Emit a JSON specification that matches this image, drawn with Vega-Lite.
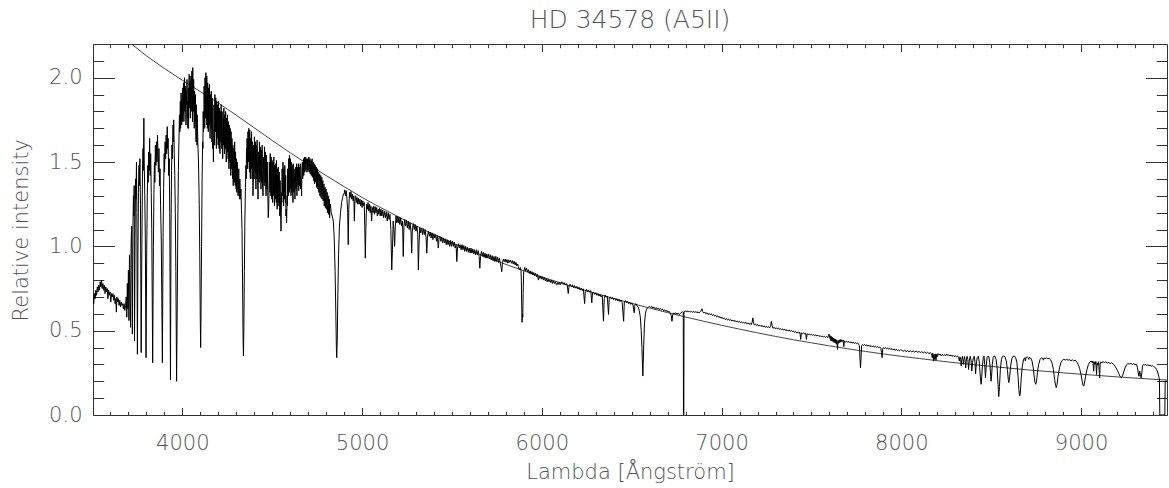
{
"$schema": "https://vega.github.io/schema/vega-lite/v6.json",
"width": 1074, "height": 371,
"autosize": "none",
"padding": {"left": 93, "top": 44, "right": 2, "bottom": 73},
"background": "white",
"title": {"text": "HD 34578 (A5II)", "font": "DejaVu Sans", "fontSize": 25, "fontWeight": 200, "color": "#555", "offset": 14, "anchor": "middle", "baseline": "alphabetic", "dy": 23},
"datasets": {
"cont": [{"w":3503,"c":2.40},{"w":3600,"c":2.31},{"w":3700,"c":2.215},{"w":3800,"c":2.13},{"w":3900,"c":2.055},{"w":4000,"c":1.985},{"w":4100,"c":1.918},{"w":4200,"c":1.85},{"w":4300,"c":1.778},{"w":4400,"c":1.703},{"w":4500,"c":1.628},{"w":4600,"c":1.555},{"w":4700,"c":1.486},{"w":4800,"c":1.42},{"w":4900,"c":1.354},{"w":5000,"c":1.29},{"w":5100,"c":1.232},{"w":5200,"c":1.176},{"w":5300,"c":1.122},{"w":5400,"c":1.07},{"w":5500,"c":1.022},{"w":5600,"c":0.976},{"w":5700,"c":0.933},{"w":5800,"c":0.893},{"w":5900,"c":0.855},{"w":6000,"c":0.819},{"w":6100,"c":0.785},{"w":6200,"c":0.752},{"w":6300,"c":0.721},{"w":6400,"c":0.691},{"w":6500,"c":0.662},{"w":6600,"c":0.634},{"w":6700,"c":0.607},{"w":6800,"c":0.581},{"w":6900,"c":0.556},{"w":7000,"c":0.532},{"w":7100,"c":0.509},{"w":7200,"c":0.487},{"w":7300,"c":0.466},{"w":7400,"c":0.446},{"w":7500,"c":0.428},{"w":7600,"c":0.41},{"w":7700,"c":0.393},{"w":7800,"c":0.377},{"w":7900,"c":0.362},{"w":8000,"c":0.348},{"w":8100,"c":0.335},{"w":8200,"c":0.322},{"w":8300,"c":0.31},{"w":8400,"c":0.299},{"w":8500,"c":0.288},{"w":8600,"c":0.278},{"w":8700,"c":0.268},{"w":8800,"c":0.259},{"w":8900,"c":0.25},{"w":9000,"c":0.242},{"w":9100,"c":0.234},{"w":9200,"c":0.226},{"w":9300,"c":0.219},{"w":9400,"c":0.212},{"w":9478,"c":0.207}],
"spec": [
{"w":3503,"f":0.70},{"w":3507,"f":0.66},{"w":3511,"f":0.72},{"w":3515,"f":0.69},{"w":3519,"f":0.74},{"w":3523,"f":0.71},{"w":3527,"f":0.76},{"w":3531,"f":0.73},{"w":3535,"f":0.77},{"w":3539,"f":0.74},{"w":3543,"f":0.79},{"w":3547,"f":0.76},{"w":3550,"f":0.80},{"w":3554,"f":0.75},{"w":3558,"f":0.78},{"w":3562,"f":0.74},{"w":3566,"f":0.77},{"w":3570,"f":0.72},{"w":3574,"f":0.76},{"w":3578,"f":0.73},{"w":3582,"f":0.75},{"w":3586,"f":0.69},{"w":3590,"f":0.74},{"w":3594,"f":0.71},{"w":3598,"f":0.73},{"w":3602,"f":0.67},{"w":3606,"f":0.72},{"w":3610,"f":0.70},{"w":3614,"f":0.72},{"w":3618,"f":0.68},{"w":3622,"f":0.71},{"w":3626,"f":0.66},{"w":3630,"f":0.69},{"w":3633,"f":0.61},{"w":3636,"f":0.70},{"w":3640,"f":0.67},{"w":3644,"f":0.69},{"w":3648,"f":0.65},{"w":3652,"f":0.68},{"w":3656,"f":0.64},{"w":3660,"f":0.67},{"w":3664,"f":0.65},{"w":3668,"f":0.66},{"w":3672,"f":0.63},{"w":3676,"f":0.66},{"w":3680,"f":0.62},{"w":3684,"f":0.65},
{"w":3688,"f":0.70},{"w":3691,"f":0.58},{"w":3694,"f":0.78},{"w":3697,"f":0.63},{"w":3700,"f":0.86},{"w":3703,"f":0.56},{"w":3706,"f":0.95},{"w":3709,"f":0.72},{"w":3712,"f":0.52},{"w":3715,"f":1.02},{"w":3718,"f":1.12},{"w":3720,"f":0.85},{"w":3722,"f":0.48},{"w":3725,"f":1.10},{"w":3728,"f":1.30},{"w":3730,"f":1.18},{"w":3732,"f":1.36},{"w":3734,"f":0.44},{"w":3737,"f":1.05},{"w":3740,"f":1.40},{"w":3742,"f":1.28},{"w":3745,"f":1.50},{"w":3747,"f":1.20},{"w":3750,"f":0.36},{"w":3753,"f":0.95},{"w":3756,"f":1.32},{"w":3759,"f":1.48},{"w":3761,"f":1.36},{"w":3764,"f":1.52},{"w":3767,"f":1.25},{"w":3771,"f":0.37},{"w":3775,"f":1.02},{"w":3778,"f":1.40},{"w":3781,"f":1.58},{"w":3783,"f":1.45},{"w":3786,"f":1.76},{"w":3788,"f":1.50},{"w":3791,"f":1.30},{"w":3794,"f":1.05},{"w":3798,"f":0.34},{"w":3802,"f":0.98},{"w":3805,"f":1.30},{"w":3808,"f":1.48},{"w":3810,"f":1.38},{"w":3813,"f":1.56},{"w":3816,"f":1.45},{"w":3818,"f":1.64},{"w":3821,"f":1.42},{"w":3824,"f":1.55},{"w":3827,"f":1.32},{"w":3830,"f":1.10},{"w":3835,"f":0.31},{"w":3839,"f":1.00},{"w":3842,"f":1.32},{"w":3845,"f":1.50},{"w":3847,"f":1.38},{"w":3850,"f":1.60},{"w":3853,"f":1.48},{"w":3856,"f":1.62},{"w":3859,"f":1.50},{"w":3862,"f":1.66},{"w":3864,"f":1.56},{"w":3867,"f":1.44},{"w":3870,"f":1.58},{"w":3873,"f":1.36},{"w":3876,"f":1.46},{"w":3879,"f":1.24},{"w":3883,"f":1.02},{"w":3889,"f":0.31},{"w":3893,"f":1.08},{"w":3896,"f":1.35},{"w":3899,"f":1.55},{"w":3901,"f":1.44},{"w":3904,"f":1.62},{"w":3907,"f":1.52},{"w":3910,"f":1.66},{"w":3913,"f":1.55},{"w":3916,"f":1.71},{"w":3918,"f":1.58},{"w":3921,"f":1.64},{"w":3924,"f":1.42},{"w":3927,"f":1.52},{"w":3930,"f":1.20},{"w":3934,"f":0.21},{"w":3937,"f":1.10},{"w":3940,"f":1.45},{"w":3942,"f":1.60},{"w":3945,"f":1.52},{"w":3948,"f":1.72},{"w":3950,"f":1.62},{"w":3952,"f":1.75},{"w":3955,"f":1.55},{"w":3958,"f":1.42},{"w":3961,"f":1.20},{"w":3964,"f":0.85},{"w":3968,"f":0.20},{"w":3972,"f":0.70},{"w":3975,"f":1.15},{"w":3978,"f":1.45},{"w":3981,"f":1.62},{"w":3984,"f":1.78},{"w":3986,"f":1.68},{"w":3989,"f":1.86},{"w":3991,"f":1.76},{"w":3993,"f":1.91},{"w":3995,"f":1.80},{"w":3998,"f":1.87},{"w":4000,"f":1.74},{"w":4002,"f":1.94},{"w":4005,"f":1.84},{"w":4007,"f":1.97},{"w":4010,"f":1.86},{"w":4012,"f":2.00},{"w":4015,"f":1.88},{"w":4017,"f":1.95},{"w":4019,"f":1.78},{"w":4022,"f":1.92},{"w":4024,"f":1.84},{"w":4026,"f":1.99},{"w":4029,"f":1.86},{"w":4031,"f":1.70},{"w":4033,"f":1.94},{"w":4036,"f":1.85},{"w":4038,"f":2.02},{"w":4041,"f":1.90},{"w":4043,"f":1.98},{"w":4046,"f":1.84},{"w":4048,"f":2.01},{"w":4051,"f":1.92},{"w":4053,"f":2.04},{"w":4055,"f":1.90},{"w":4058,"f":2.06},{"w":4060,"f":1.88},{"w":4063,"f":1.99},{"w":4065,"f":1.78},{"w":4068,"f":1.92},{"w":4070,"f":1.82},{"w":4073,"f":1.90},{"w":4075,"f":1.68},{"w":4078,"f":1.84},{"w":4080,"f":1.72},{"w":4083,"f":1.78},{"w":4086,"f":1.62},{"w":4090,"f":1.50},{"w":4094,"f":1.25},{"w":4097,"f":0.95},{"w":4100,"f":0.55},{"w":4102,"f":0.40},{"w":4104,"f":0.60},{"w":4107,"f":1.00},
{"w":4110,"f":1.40},{"w":4113,"f":1.62},{"w":4116,"f":1.80},{"w":4118,"f":1.68},{"w":4121,"f":1.95},{"w":4123,"f":1.84},{"w":4126,"f":2.00},{"w":4128,"f":1.88},{"w":4131,"f":2.03},{"w":4133,"f":1.92},{"w":4136,"f":2.01},{"w":4138,"f":1.86},{"w":4141,"f":1.97},{"w":4143,"f":1.80},{"w":4146,"f":1.94},{"w":4148,"f":1.84},{"w":4151,"f":1.96},{"w":4153,"f":1.76},{"w":4156,"f":1.90},{"w":4158,"f":1.80},{"w":4161,"f":1.92},{"w":4163,"f":1.74},{"w":4166,"f":1.88},{"w":4168,"f":1.78},{"w":4171,"f":1.62},{"w":4173,"f":1.50},{"w":4176,"f":1.84},{"w":4178,"f":1.72},{"w":4181,"f":1.90},{"w":4183,"f":1.80},{"w":4186,"f":1.88},{"w":4188,"f":1.74},{"w":4191,"f":1.86},{"w":4193,"f":1.70},{"w":4196,"f":1.84},{"w":4198,"f":1.76},{"w":4201,"f":1.86},{"w":4203,"f":1.72},{"w":4206,"f":1.82},{"w":4208,"f":1.66},{"w":4211,"f":1.80},{"w":4213,"f":1.70},{"w":4216,"f":1.84},{"w":4218,"f":1.74},{"w":4221,"f":1.80},{"w":4223,"f":1.68},{"w":4226,"f":1.63},{"w":4228,"f":1.76},{"w":4231,"f":1.82},{"w":4233,"f":1.66},{"w":4236,"f":1.78},{"w":4238,"f":1.70},{"w":4241,"f":1.80},{"w":4243,"f":1.62},{"w":4246,"f":1.76},{"w":4248,"f":1.66},{"w":4251,"f":1.78},{"w":4253,"f":1.68},{"w":4256,"f":1.74},{"w":4258,"f":1.56},{"w":4261,"f":1.72},{"w":4263,"f":1.60},{"w":4266,"f":1.70},{"w":4268,"f":1.52},{"w":4271,"f":1.68},{"w":4273,"f":1.50},{"w":4276,"f":1.64},{"w":4278,"f":1.46},{"w":4281,"f":1.60},{"w":4283,"f":1.36},{"w":4286,"f":1.58},{"w":4288,"f":1.48},{"w":4291,"f":1.62},{"w":4293,"f":1.44},{"w":4296,"f":1.56},{"w":4298,"f":1.40},{"w":4301,"f":1.52},{"w":4303,"f":1.32},{"w":4306,"f":1.50},{"w":4308,"f":1.38},{"w":4311,"f":1.30},{"w":4314,"f":1.46},{"w":4317,"f":1.34},{"w":4320,"f":1.40},{"w":4323,"f":1.28},{"w":4326,"f":1.34},{"w":4329,"f":1.22},{"w":4332,"f":1.10},{"w":4335,"f":0.80},{"w":4338,"f":0.45},{"w":4340,"f":0.35},{"w":4342,"f":0.48},{"w":4345,"f":0.85},
{"w":4348,"f":1.15},{"w":4351,"f":1.35},{"w":4354,"f":1.48},{"w":4357,"f":1.58},{"w":4360,"f":1.64},{"w":4362,"f":1.56},{"w":4365,"f":1.68},{"w":4367,"f":1.60},{"w":4370,"f":1.70},{"w":4372,"f":1.58},{"w":4375,"f":1.69},{"w":4377,"f":1.52},{"w":4380,"f":1.64},{"w":4382,"f":1.55},{"w":4385,"f":1.68},{"w":4387,"f":1.52},{"w":4390,"f":1.62},{"w":4393,"f":1.30},{"w":4396,"f":1.60},{"w":4398,"f":1.48},{"w":4401,"f":1.65},{"w":4403,"f":1.54},{"w":4406,"f":1.62},{"w":4408,"f":1.42},{"w":4411,"f":1.60},{"w":4413,"f":1.48},{"w":4416,"f":1.63},{"w":4418,"f":1.46},{"w":4421,"f":1.28},{"w":4424,"f":1.56},{"w":4426,"f":1.47},{"w":4429,"f":1.62},{"w":4431,"f":1.50},{"w":4434,"f":1.59},{"w":4436,"f":1.42},{"w":4439,"f":1.57},{"w":4441,"f":1.45},{"w":4444,"f":1.60},{"w":4446,"f":1.37},{"w":4449,"f":1.30},{"w":4452,"f":1.53},{"w":4454,"f":1.43},{"w":4457,"f":1.59},{"w":4459,"f":1.47},{"w":4462,"f":1.56},{"w":4464,"f":1.39},{"w":4467,"f":1.54},{"w":4469,"f":1.38},{"w":4472,"f":1.50},{"w":4475,"f":1.32},{"w":4478,"f":1.17},{"w":4481,"f":1.24},{"w":4484,"f":1.50},{"w":4486,"f":1.40},{"w":4489,"f":1.55},{"w":4491,"f":1.39},{"w":4494,"f":1.53},{"w":4496,"f":1.37},{"w":4499,"f":1.51},{"w":4501,"f":1.33},{"w":4504,"f":1.50},{"w":4506,"f":1.39},{"w":4509,"f":1.53},{"w":4511,"f":1.35},{"w":4514,"f":1.48},{"w":4516,"f":1.29},{"w":4519,"f":1.49},{"w":4521,"f":1.37},{"w":4524,"f":1.51},{"w":4526,"f":1.33},{"w":4529,"f":1.46},{"w":4531,"f":1.27},{"w":4534,"f":1.47},{"w":4536,"f":1.35},{"w":4539,"f":1.44},{"w":4541,"f":1.23},{"w":4544,"f":1.39},{"w":4546,"f":1.24},{"w":4549,"f":1.09},{"w":4552,"f":1.32},{"w":4555,"f":1.46},{"w":4557,"f":1.33},{"w":4560,"f":1.50},{"w":4562,"f":1.37},{"w":4565,"f":1.46},{"w":4567,"f":1.31},{"w":4570,"f":1.48},{"w":4572,"f":1.35},{"w":4575,"f":1.42},{"w":4578,"f":1.22},{"w":4580,"f":1.14},{"w":4583,"f":1.30},{"w":4586,"f":1.46},{"w":4588,"f":1.37},{"w":4591,"f":1.52},{"w":4593,"f":1.41},{"w":4596,"f":1.54},{"w":4598,"f":1.43},{"w":4601,"f":1.52},{"w":4603,"f":1.39},{"w":4606,"f":1.50},{"w":4608,"f":1.37},{"w":4611,"f":1.48},{"w":4614,"f":1.33},{"w":4617,"f":1.49},{"w":4619,"f":1.41},{"w":4622,"f":1.46},{"w":4625,"f":1.36},{"w":4628,"f":1.35},{"w":4631,"f":1.47},{"w":4633,"f":1.39},{"w":4636,"f":1.49},{"w":4638,"f":1.35},{"w":4641,"f":1.47},{"w":4643,"f":1.41},{"w":4646,"f":1.49},{"w":4648,"f":1.39},{"w":4651,"f":1.47},{"w":4653,"f":1.43},{"w":4656,"f":1.49},{"w":4659,"f":1.41},{"w":4662,"f":1.36},{"w":4665,"f":1.46},{"w":4668,"f":1.50},{"w":4671,"f":1.44},{"w":4674,"f":1.52},{"w":4677,"f":1.47},{"w":4680,"f":1.53},{"w":4683,"f":1.48},{"w":4686,"f":1.53},{"w":4689,"f":1.49},{"w":4692,"f":1.52},{"w":4695,"f":1.46},{"w":4698,"f":1.52},{"w":4701,"f":1.50},{"w":4704,"f":1.53},{"w":4707,"f":1.49},{"w":4710,"f":1.52},{"w":4713,"f":1.46},{"w":4716,"f":1.51},{"w":4719,"f":1.47},{"w":4722,"f":1.52},{"w":4725,"f":1.47},{"w":4728,"f":1.50},{"w":4731,"f":1.45},{"w":4734,"f":1.49},
{"w":4737,"f":1.44},{"w":4740,"f":1.48},{"w":4743,"f":1.43},{"w":4746,"f":1.47},{"w":4749,"f":1.42},{"w":4752,"f":1.46},{"w":4755,"f":1.40},{"w":4758,"f":1.44},{"w":4761,"f":1.38},{"w":4764,"f":1.43},{"w":4767,"f":1.37},{"w":4770,"f":1.42},{"w":4773,"f":1.34},{"w":4776,"f":1.41},{"w":4779,"f":1.36},{"w":4782,"f":1.39},{"w":4785,"f":1.33},{"w":4788,"f":1.37},{"w":4791,"f":1.30},{"w":4794,"f":1.35},{"w":4797,"f":1.29},{"w":4800,"f":1.34},{"w":4803,"f":1.28},{"w":4806,"f":1.32},{"w":4809,"f":1.25},{"w":4812,"f":1.30},{"w":4815,"f":1.24},{"w":4818,"f":1.28},{"w":4821,"f":1.22},{"w":4824,"f":1.25},{"w":4828,"f":1.20},{"w":4834,"f":1.18},{"w":4840,"f":1.15},{"w":4845,"f":1.05},{"w":4850,"f":0.85},{"w":4854,"f":0.60},{"w":4857,"f":0.40},{"w":4859,"f":0.34},{"w":4862,"f":0.45},{"w":4865,"f":0.70},{"w":4869,"f":0.95},{"w":4874,"f":1.12},{"w":4880,"f":1.20},{"w":4886,"f":1.26},{"w":4892,"f":1.29},{"w":4896,"f":1.31},
{"w":4900,"f":1.31},{"w":4904,"f":1.335},{"w":4908,"f":1.30},{"w":4912,"f":1.33},{"w":4916,"f":1.28},{"w":4920,"f":1.20},{"w":4923,"f":1.01},{"w":4926,"f":1.22},{"w":4930,"f":1.32},{"w":4934,"f":1.29},{"w":4938,"f":1.325},{"w":4942,"f":1.28},{"w":4946,"f":1.31},{"w":4950,"f":1.27},{"w":4954,"f":1.30},{"w":4957,"f":1.15},{"w":4960,"f":1.27},{"w":4964,"f":1.30},{"w":4968,"f":1.26},{"w":4972,"f":1.29},{"w":4976,"f":1.25},{"w":4980,"f":1.285},{"w":4984,"f":1.25},{"w":4988,"f":1.28},{"w":4992,"f":1.24},{"w":4996,"f":1.275},{"w":5000,"f":1.23},{"w":5004,"f":1.27},{"w":5008,"f":1.24},{"w":5012,"f":1.26},{"w":5015,"f":1.12},{"w":5018,"f":0.93},{"w":5021,"f":1.10},{"w":5025,"f":1.25},{"w":5029,"f":1.22},{"w":5033,"f":1.26},{"w":5037,"f":1.21},{"w":5041,"f":1.25},{"w":5045,"f":1.20},{"w":5049,"f":1.24},{"w":5053,"f":1.15},{"w":5057,"f":1.23},{"w":5061,"f":1.20},{"w":5065,"f":1.24},{"w":5069,"f":1.19},{"w":5073,"f":1.235},{"w":5077,"f":1.20},{"w":5081,"f":1.23},{"w":5085,"f":1.18},{"w":5089,"f":1.22},{"w":5093,"f":1.19},{"w":5097,"f":1.225},{"w":5101,"f":1.18},{"w":5105,"f":1.22},{"w":5110,"f":1.18},{"w":5115,"f":1.215},{"w":5120,"f":1.17},{"w":5125,"f":1.21},{"w":5130,"f":1.17},{"w":5135,"f":1.205},{"w":5140,"f":1.15},{"w":5145,"f":1.20},{"w":5150,"f":1.16},{"w":5155,"f":1.19},{"w":5160,"f":1.10},{"w":5165,"f":0.86},{"w":5169,"f":0.98},{"w":5173,"f":1.15},{"w":5177,"f":1.10},{"w":5181,"f":1.00},{"w":5185,"f":1.12},{"w":5189,"f":1.18},{"w":5193,"f":1.14},{"w":5197,"f":1.18},{"w":5201,"f":1.14},{"w":5205,"f":1.175},{"w":5210,"f":1.13},{"w":5215,"f":1.17},{"w":5220,"f":1.12},{"w":5225,"f":1.15},{"w":5229,"f":0.94},{"w":5233,"f":1.12},{"w":5237,"f":1.16},{"w":5242,"f":1.12},{"w":5247,"f":1.155},{"w":5252,"f":1.11},{"w":5257,"f":1.15},{"w":5262,"f":1.10},{"w":5267,"f":1.14},{"w":5272,"f":1.09},{"w":5276,"f":0.96},{"w":5280,"f":1.11},{"w":5285,"f":1.135},{"w":5290,"f":1.10},{"w":5295,"f":1.13},{"w":5300,"f":1.09},{"w":5305,"f":1.12},{"w":5310,"f":1.07},{"w":5313,"f":0.86},{"w":5317,"f":1.02},{"w":5321,"f":1.11},{"w":5326,"f":1.08},{"w":5331,"f":1.11},{"w":5336,"f":1.07},{"w":5341,"f":1.105},{"w":5346,"f":1.07},{"w":5351,"f":1.10},{"w":5356,"f":1.05},{"w":5360,"f":0.96},{"w":5364,"f":1.06},{"w":5369,"f":1.09},{"w":5374,"f":1.06},{"w":5379,"f":1.085},{"w":5384,"f":1.05},{"w":5389,"f":1.08},{"w":5394,"f":1.04},{"w":5399,"f":1.075},{"w":5404,"f":1.05},{"w":5409,"f":1.07},{"w":5414,"f":1.03},{"w":5419,"f":1.065},{"w":5424,"f":0.99},{"w":5428,"f":1.05},{"w":5433,"f":1.06},{"w":5438,"f":1.03},{"w":5443,"f":1.055},{"w":5448,"f":1.02},{"w":5453,"f":1.05},{"w":5458,"f":1.02},{"w":5463,"f":1.045},{"w":5468,"f":1.01},{"w":5473,"f":1.04},{"w":5478,"f":1.01},{"w":5483,"f":1.035},{"w":5488,"f":1.00},{"w":5493,"f":1.035},{"w":5498,"f":1.00},{"w":5503,"f":1.03},{"w":5508,"f":1.00},{"w":5513,"f":1.025},{"w":5518,"f":0.99},{"w":5523,"f":1.01},{"w":5527,"f":0.91},{"w":5531,"f":0.99},{"w":5536,"f":1.015},{"w":5541,"f":0.99},{"w":5546,"f":1.01},{"w":5551,"f":0.98},{"w":5556,"f":1.01},{"w":5561,"f":0.98},{"w":5566,"f":1.005},{"w":5571,"f":0.97},{"w":5576,"f":1.00},{"w":5581,"f":0.97},{"w":5586,"f":0.995},{"w":5591,"f":0.965},{"w":5596,"f":0.99},{"w":5601,"f":0.96},{"w":5606,"f":0.99},{"w":5611,"f":0.96},{"w":5616,"f":0.985},{"w":5621,"f":0.955},{"w":5626,"f":0.98},{"w":5631,"f":0.95},{"w":5636,"f":0.98},{"w":5641,"f":0.95},{"w":5646,"f":0.975},{"w":5651,"f":0.94},{"w":5655,"f":0.87},{"w":5659,"f":0.94},{"w":5664,"f":0.97},{"w":5669,"f":0.94},{"w":5674,"f":0.965},{"w":5679,"f":0.935},{"w":5684,"f":0.96},{"w":5689,"f":0.93},{"w":5694,"f":0.955},{"w":5699,"f":0.93},{"w":5704,"f":0.955},{"w":5709,"f":0.925},{"w":5714,"f":0.95},{"w":5719,"f":0.92},{"w":5724,"f":0.945},{"w":5729,"f":0.915},{"w":5734,"f":0.94},{"w":5739,"f":0.91},{"w":5744,"f":0.94},{"w":5749,"f":0.91},{"w":5754,"f":0.935},{"w":5759,"f":0.905},{"w":5764,"f":0.93},{"w":5769,"f":0.90},{"w":5773,"f":0.88},{"w":5777,"f":0.85},{"w":5781,"f":0.90},{"w":5786,"f":0.925},{"w":5791,"f":0.91},{"w":5796,"f":0.925},{"w":5801,"f":0.905},{"w":5806,"f":0.922},{"w":5811,"f":0.90},{"w":5816,"f":0.92},{"w":5821,"f":0.905},{"w":5826,"f":0.918},{"w":5831,"f":0.90},{"w":5836,"f":0.915},{"w":5841,"f":0.895},{"w":5846,"f":0.912},{"w":5851,"f":0.89},{"w":5856,"f":0.905},{"w":5861,"f":0.885},{"w":5866,"f":0.895},{"w":5871,"f":0.87},{"w":5876,"f":0.86},{"w":5880,"f":0.875},{"w":5884,"f":0.86},{"w":5886,"f":0.80},{"w":5888,"f":0.65},{"w":5890,"f":0.55},{"w":5892,"f":0.60},{"w":5894,"f":0.58},{"w":5896,"f":0.72},{"w":5899,"f":0.85},{"w":5905,"f":0.875},{"w":5910,"f":0.855},{"w":5915,"f":0.87},{"w":5920,"f":0.85},{"w":5925,"f":0.862},{"w":5930,"f":0.84},{"w":5935,"f":0.855},{"w":5940,"f":0.835},{"w":5945,"f":0.85},{"w":5950,"f":0.83},{"w":5955,"f":0.845},{"w":5960,"f":0.825},{"w":5965,"f":0.84},{"w":5970,"f":0.82},{"w":5975,"f":0.835},{"w":5981,"f":0.80},{"w":5985,"f":0.825},{"w":5990,"f":0.81},{"w":5995,"f":0.825},{"w":6000,"f":0.805},{"w":6005,"f":0.82},{"w":6010,"f":0.80},{"w":6015,"f":0.815},{"w":6020,"f":0.795},{"w":6025,"f":0.81},{"w":6030,"f":0.79},{"w":6035,"f":0.805},{"w":6040,"f":0.79},{"w":6045,"f":0.80},{"w":6050,"f":0.785},{"w":6055,"f":0.80},{"w":6060,"f":0.78},{"w":6065,"f":0.795},{"w":6070,"f":0.78},{"w":6075,"f":0.79},{"w":6080,"f":0.775},{"w":6083,"f":0.77},{"w":6087,"f":0.785},{"w":6092,"f":0.775},{"w":6097,"f":0.788},{"w":6102,"f":0.772},{"w":6107,"f":0.785},
{"w":6112,"f":0.79},{"w":6118,"f":0.775},{"w":6124,"f":0.785},{"w":6130,"f":0.77},{"w":6136,"f":0.78},{"w":6142,"f":0.765},{"w":6147,"f":0.72},{"w":6152,"f":0.77},{"w":6158,"f":0.775},{"w":6164,"f":0.76},{"w":6170,"f":0.772},{"w":6176,"f":0.755},{"w":6182,"f":0.768},{"w":6188,"f":0.752},{"w":6195,"f":0.763},{"w":6201,"f":0.748},{"w":6207,"f":0.758},{"w":6213,"f":0.742},{"w":6219,"f":0.752},{"w":6225,"f":0.738},{"w":6231,"f":0.748},{"w":6238,"f":0.66},{"w":6242,"f":0.735},{"w":6248,"f":0.745},{"w":6254,"f":0.73},{"w":6260,"f":0.742},{"w":6266,"f":0.728},{"w":6272,"f":0.738},{"w":6278,"f":0.665},{"w":6282,"f":0.725},{"w":6288,"f":0.728},{"w":6294,"f":0.715},{"w":6300,"f":0.725},{"w":6306,"f":0.71},{"w":6312,"f":0.72},{"w":6318,"f":0.705},{"w":6324,"f":0.715},{"w":6330,"f":0.70},{"w":6336,"f":0.71},{"w":6343,"f":0.556},{"w":6347,"f":0.69},{"w":6352,"f":0.712},{"w":6358,"f":0.698},{"w":6364,"f":0.705},{"w":6371,"f":0.596},{"w":6375,"f":0.695},{"w":6381,"f":0.70},{"w":6387,"f":0.688},{"w":6393,"f":0.698},{"w":6399,"f":0.684},{"w":6405,"f":0.694},{"w":6411,"f":0.68},{"w":6417,"f":0.69},{"w":6423,"f":0.676},{"w":6429,"f":0.686},{"w":6435,"f":0.672},{"w":6441,"f":0.682},{"w":6447,"f":0.668},{"w":6455,"f":0.556},{"w":6459,"f":0.672},{"w":6465,"f":0.678},{"w":6471,"f":0.665},{"w":6477,"f":0.674},{"w":6483,"f":0.66},{"w":6489,"f":0.67},{"w":6495,"f":0.656},{"w":6501,"f":0.665},{"w":6507,"f":0.652},{"w":6514,"f":0.606},{"w":6518,"f":0.655},{"w":6524,"f":0.66},{"w":6530,"f":0.648},{"w":6536,"f":0.64},{"w":6542,"f":0.62},{"w":6548,"f":0.58},{"w":6553,"f":0.50},{"w":6557,"f":0.40},{"w":6560,"f":0.29},{"w":6562,"f":0.231},{"w":6564,"f":0.30},{"w":6567,"f":0.42},{"w":6571,"f":0.54},{"w":6576,"f":0.60},{"w":6582,"f":0.625},{"w":6588,"f":0.635},{"w":6594,"f":0.64},{"w":6600,"f":0.645},{"w":6606,"f":0.638},{"w":6612,"f":0.644},{"w":6618,"f":0.634},{"w":6624,"f":0.64},{"w":6630,"f":0.63},{"w":6636,"f":0.637},{"w":6642,"f":0.628},{"w":6648,"f":0.635},{"w":6654,"f":0.625},{"w":6660,"f":0.632},{"w":6666,"f":0.622},{"w":6672,"f":0.628},{"w":6678,"f":0.618},{"w":6684,"f":0.624},{"w":6690,"f":0.614},{"w":6696,"f":0.62},{"w":6702,"f":0.61},{"w":6708,"f":0.615},{"w":6714,"f":0.605},{"w":6720,"f":0.59},{"w":6724,"f":0.556},{"w":6728,"f":0.595},{"w":6733,"f":0.605},{"w":6740,"f":0.60},{"w":6746,"f":0.606},{"w":6752,"f":0.598},{"w":6758,"f":0.604},{"w":6764,"f":0.596},{"w":6770,"f":0.602},{"w":6776,"f":0.608},{"w":6782,"f":0.612},{"w":6787,"f":0.61},{"w":6788,"f":0.0},{"w":6790,"f":0.0},{"w":6791,"f":0.612},{"w":6797,"f":0.618},{"w":6803,"f":0.612},{"w":6809,"f":0.618},{"w":6815,"f":0.61},{"w":6821,"f":0.617},{"w":6827,"f":0.61},{"w":6833,"f":0.616},{"w":6839,"f":0.608},{"w":6845,"f":0.615},{"w":6851,"f":0.607},{"w":6857,"f":0.614},{"w":6863,"f":0.606},{"w":6869,"f":0.612},{"w":6875,"f":0.605},{"w":6881,"f":0.612},{"w":6887,"f":0.622},{"w":6891,"f":0.63},{"w":6895,"f":0.612},{"w":6901,"f":0.605},{"w":6907,"f":0.61},{"w":6913,"f":0.60},{"w":6919,"f":0.606},{"w":6925,"f":0.596},{"w":6931,"f":0.602},{"w":6937,"f":0.594},{"w":6943,"f":0.60},{"w":6949,"f":0.59},{"w":6955,"f":0.596},{"w":6961,"f":0.586},{"w":6967,"f":0.592},{"w":6973,"f":0.582},{"w":6979,"f":0.588},{"w":6985,"f":0.578},{"w":6991,"f":0.584},{"w":6997,"f":0.574},{"w":7003,"f":0.58},{"w":7009,"f":0.57},{"w":7015,"f":0.576},{"w":7021,"f":0.566},{"w":7027,"f":0.572},{"w":7033,"f":0.563},{"w":7039,"f":0.569},{"w":7045,"f":0.56},{"w":7051,"f":0.566},{"w":7057,"f":0.557},{"w":7063,"f":0.563},{"w":7069,"f":0.555},{"w":7075,"f":0.561},{"w":7081,"f":0.552},{"w":7087,"f":0.558},{"w":7093,"f":0.55},{"w":7099,"f":0.556},{"w":7105,"f":0.547},{"w":7111,"f":0.553},{"w":7117,"f":0.545},{"w":7123,"f":0.551},{"w":7129,"f":0.543},{"w":7135,"f":0.549},{"w":7141,"f":0.54},{"w":7147,"f":0.546},{"w":7153,"f":0.538},{"w":7159,"f":0.544},{"w":7165,"f":0.536},{"w":7170,"f":0.55},{"w":7174,"f":0.576},{"w":7178,"f":0.545},{"w":7183,"f":0.534},{"w":7189,"f":0.54},{"w":7195,"f":0.53},{"w":7201,"f":0.536},{"w":7207,"f":0.527},{"w":7213,"f":0.533},{"w":7219,"f":0.525},{"w":7225,"f":0.531},{"w":7231,"f":0.522},{"w":7237,"f":0.528},{"w":7243,"f":0.52},{"w":7249,"f":0.526},{"w":7255,"f":0.518},{"w":7261,"f":0.524},{"w":7267,"f":0.516},{"w":7273,"f":0.53},{"w":7277,"f":0.556},{"w":7281,"f":0.53},{"w":7286,"f":0.514},{"w":7292,"f":0.52},{"w":7298,"f":0.512},{"w":7304,"f":0.518},{"w":7310,"f":0.51},{"w":7316,"f":0.516},{"w":7322,"f":0.507},{"w":7328,"f":0.513},{"w":7334,"f":0.505},{"w":7340,"f":0.511},{"w":7346,"f":0.503},{"w":7352,"f":0.509},{"w":7358,"f":0.5},{"w":7364,"f":0.506},{"w":7370,"f":0.498},{"w":7376,"f":0.504},{"w":7382,"f":0.496},{"w":7388,"f":0.502},{"w":7394,"f":0.494},{"w":7400,"f":0.498},{"w":7406,"f":0.49},{"w":7412,"f":0.495},{"w":7418,"f":0.487},{"w":7424,"f":0.492},{"w":7430,"f":0.485},{"w":7436,"f":0.49},{"w":7440,"f":0.448},{"w":7444,"f":0.486},{"w":7450,"f":0.482},{"w":7456,"f":0.487},{"w":7462,"f":0.48},{"w":7468,"f":0.485},{"w":7472,"f":0.448},{"w":7476,"f":0.482},{"w":7482,"f":0.476},{"w":7488,"f":0.481},{"w":7494,"f":0.474},{"w":7500,"f":0.479},{"w":7506,"f":0.472},{"w":7512,"f":0.477},{"w":7518,"f":0.47},{"w":7524,"f":0.475},{"w":7530,"f":0.468},{"w":7536,"f":0.473},{"w":7542,"f":0.466},{"w":7548,"f":0.471},{"w":7554,"f":0.464},{"w":7560,"f":0.469},{"w":7566,"f":0.462},{"w":7572,"f":0.467},{"w":7578,"f":0.46},{"w":7584,"f":0.466},{"w":7590,"f":0.458},{"w":7594,"f":0.47},{"w":7598,"f":0.48},{"w":7602,"f":0.455},{"w":7605,"f":0.47},{"w":7608,"f":0.44},{"w":7611,"f":0.465},{"w":7614,"f":0.438},{"w":7617,"f":0.46},{"w":7620,"f":0.435},{"w":7623,"f":0.455},{"w":7626,"f":0.43},{"w":7629,"f":0.452},{"w":7632,"f":0.428},{"w":7635,"f":0.45},{"w":7638,"f":0.42},{"w":7641,"f":0.445},{"w":7645,"f":0.389},{"w":7648,"f":0.44},{"w":7651,"f":0.425},{"w":7654,"f":0.445},{"w":7657,"f":0.43},{"w":7660,"f":0.448},{"w":7664,"f":0.432},{"w":7668,"f":0.446},{"w":7672,"f":0.436},{"w":7676,"f":0.445},{"w":7680,"f":0.405},{"w":7684,"f":0.44},{"w":7690,"f":0.432},{"w":7696,"f":0.438},{"w":7702,"f":0.43},{"w":7708,"f":0.436},{"w":7714,"f":0.428},{"w":7720,"f":0.434},{"w":7726,"f":0.426},{"w":7732,"f":0.432},{"w":7738,"f":0.424},{"w":7744,"f":0.43},{"w":7750,"f":0.422},{"w":7756,"f":0.428},{"w":7762,"f":0.42},{"w":7767,"f":0.41},{"w":7770,"f":0.33},{"w":7773,"f":0.28},{"w":7776,"f":0.34},{"w":7779,"f":0.41},{"w":7784,"f":0.418},{"w":7790,"f":0.412},{"w":7796,"f":0.418},{"w":7802,"f":0.41},{"w":7808,"f":0.416},{"w":7814,"f":0.408},{"w":7820,"f":0.414},{"w":7826,"f":0.406},{"w":7832,"f":0.412},{"w":7838,"f":0.404},{"w":7844,"f":0.41},{"w":7850,"f":0.402},{"w":7856,"f":0.408},{"w":7862,"f":0.40},{"w":7868,"f":0.406},{"w":7874,"f":0.398},{"w":7880,"f":0.404},{"w":7886,"f":0.396},{"w":7890,"f":0.37},{"w":7893,"f":0.34},{"w":7896,"f":0.39},{"w":7900,"f":0.40},{"w":7906,"f":0.394},{"w":7912,"f":0.40},{"w":7918,"f":0.392},{"w":7924,"f":0.398},{"w":7930,"f":0.39},{"w":7936,"f":0.396},{"w":7942,"f":0.388},{"w":7948,"f":0.394},{"w":7954,"f":0.386},{"w":7960,"f":0.392},{"w":7966,"f":0.384},{"w":7972,"f":0.39},{"w":7978,"f":0.382},{"w":7984,"f":0.388},{"w":7990,"f":0.38},{"w":7996,"f":0.386},
{"w":8002,"f":0.384},{"w":8010,"f":0.378},{"w":8018,"f":0.384},{"w":8026,"f":0.376},{"w":8034,"f":0.382},{"w":8042,"f":0.375},{"w":8050,"f":0.381},{"w":8058,"f":0.374},{"w":8066,"f":0.38},{"w":8074,"f":0.373},{"w":8082,"f":0.379},{"w":8090,"f":0.372},{"w":8098,"f":0.377},{"w":8106,"f":0.37},{"w":8114,"f":0.376},{"w":8122,"f":0.368},{"w":8130,"f":0.374},{"w":8138,"f":0.366},{"w":8146,"f":0.372},{"w":8154,"f":0.364},{"w":8162,"f":0.37},{"w":8168,"f":0.362},{"w":8172,"f":0.34},{"w":8175,"f":0.366},{"w":8179,"f":0.32},{"w":8182,"f":0.36},{"w":8186,"f":0.33},{"w":8189,"f":0.362},{"w":8193,"f":0.325},{"w":8196,"f":0.36},{"w":8200,"f":0.345},{"w":8204,"f":0.364},{"w":8210,"f":0.355},{"w":8216,"f":0.362},{"w":8222,"f":0.35},{"w":8228,"f":0.36},{"w":8234,"f":0.352},{"w":8240,"f":0.358},{"w":8246,"f":0.35},{"w":8252,"f":0.362},{"w":8258,"f":0.352},{"w":8264,"f":0.357},{"w":8270,"f":0.35},{"w":8276,"f":0.356},{"w":8282,"f":0.348},{"w":8288,"f":0.354},{"w":8294,"f":0.346},{"w":8300,"f":0.352},{"w":8306,"f":0.344},{"w":8312,"f":0.35},{"w":8318,"f":0.342},{"w":8323,"f":0.32},{"w":8326,"f":0.345},{"w":8330,"f":0.33},{"w":8333,"f":0.29},{"w":8336,"f":0.33},{"w":8340,"f":0.348},{"w":8343,"f":0.325},{"w":8345,"f":0.30},{"w":8348,"f":0.33},{"w":8352,"f":0.347},{"w":8355,"f":0.32},{"w":8358,"f":0.28},{"w":8361,"f":0.32},{"w":8366,"f":0.348},{"w":8370,"f":0.33},{"w":8374,"f":0.27},{"w":8378,"f":0.32},{"w":8383,"f":0.348},{"w":8388,"f":0.325},{"w":8392,"f":0.26},{"w":8396,"f":0.31},{"w":8401,"f":0.34},{"w":8406,"f":0.348},{"w":8410,"f":0.31},{"w":8413,"f":0.245},{"w":8417,"f":0.30},{"w":8422,"f":0.34},{"w":8428,"f":0.348},{"w":8433,"f":0.32},{"w":8436,"f":0.28},{"w":8440,"f":0.22},{"w":8444,"f":0.182},{"w":8447,"f":0.22},{"w":8451,"f":0.29},{"w":8456,"f":0.34},{"w":8460,"f":0.35},{"w":8464,"f":0.30},{"w":8468,"f":0.221},{"w":8472,"f":0.29},{"w":8477,"f":0.34},{"w":8482,"f":0.35},{"w":8487,"f":0.345},{"w":8492,"f":0.31},{"w":8496,"f":0.25},{"w":8499,"f":0.20},{"w":8502,"f":0.23},{"w":8506,"f":0.30},{"w":8511,"f":0.34},{"w":8516,"f":0.35},{"w":8521,"f":0.348},{"w":8527,"f":0.33},{"w":8533,"f":0.28},{"w":8538,"f":0.18},{"w":8542,"f":0.109},{"w":8546,"f":0.17},{"w":8551,"f":0.27},{"w":8557,"f":0.33},{"w":8563,"f":0.348},{"w":8570,"f":0.35},{"w":8577,"f":0.345},{"w":8584,"f":0.32},{"w":8590,"f":0.27},{"w":8595,"f":0.21},{"w":8598,"f":0.192},{"w":8602,"f":0.22},{"w":8608,"f":0.29},{"w":8615,"f":0.335},{"w":8622,"f":0.348},{"w":8629,"f":0.35},{"w":8636,"f":0.34},{"w":8643,"f":0.31},{"w":8650,"f":0.22},{"w":8654,"f":0.15},{"w":8658,"f":0.112},{"w":8662,"f":0.13},{"w":8667,"f":0.22},{"w":8673,"f":0.29},{"w":8680,"f":0.33},{"w":8686,"f":0.34},{"w":8690,"f":0.32},{"w":8694,"f":0.342},{"w":8700,"f":0.345},{"w":8705,"f":0.34},{"w":8709,"f":0.33},{"w":8713,"f":0.342},{"w":8720,"f":0.337},{"w":8727,"f":0.32},{"w":8734,"f":0.28},{"w":8740,"f":0.22},{"w":8744,"f":0.19},{"w":8748,"f":0.182},{"w":8752,"f":0.20},{"w":8757,"f":0.25},{"w":8764,"f":0.30},{"w":8772,"f":0.33},{"w":8780,"f":0.34},{"w":8786,"f":0.336},{"w":8790,"f":0.325},{"w":8794,"f":0.338},{"w":8800,"f":0.336},{"w":8808,"f":0.338},{"w":8815,"f":0.334},{"w":8822,"f":0.336},{"w":8830,"f":0.328},{"w":8838,"f":0.31},{"w":8846,"f":0.27},{"w":8853,"f":0.21},{"w":8858,"f":0.175},{"w":8862,"f":0.162},{"w":8866,"f":0.18},{"w":8872,"f":0.23},{"w":8880,"f":0.28},{"w":8888,"f":0.31},{"w":8896,"f":0.325},{"w":8904,"f":0.33},{"w":8912,"f":0.326},{"w":8920,"f":0.33},{"w":8928,"f":0.325},{"w":8936,"f":0.328},{"w":8944,"f":0.322},{"w":8952,"f":0.327},{"w":8960,"f":0.32},{"w":8968,"f":0.325},{"w":8976,"f":0.315},{"w":8984,"f":0.30},{"w":8992,"f":0.275},{"w":9000,"f":0.24},{"w":9006,"f":0.20},{"w":9011,"f":0.175},{"w":9015,"f":0.172},{"w":9019,"f":0.19},{"w":9025,"f":0.23},{"w":9033,"f":0.27},{"w":9041,"f":0.30},{"w":9049,"f":0.315},{"w":9056,"f":0.32},{"w":9062,"f":0.31},{"w":9066,"f":0.32},{"w":9070,"f":0.26},{"w":9073,"f":0.315},{"w":9078,"f":0.30},{"w":9082,"f":0.318},{"w":9086,"f":0.24},{"w":9089,"f":0.31},{"w":9094,"f":0.295},{"w":9098,"f":0.316},{"w":9103,"f":0.22},{"w":9106,"f":0.30},{"w":9110,"f":0.315},{"w":9116,"f":0.31},{"w":9122,"f":0.316},{"w":9130,"f":0.312},{"w":9138,"f":0.315},{"w":9146,"f":0.308},{"w":9154,"f":0.312},{"w":9162,"f":0.305},{"w":9170,"f":0.31},{"w":9178,"f":0.302},{"w":9186,"f":0.295},{"w":9194,"f":0.28},{"w":9202,"f":0.265},{"w":9210,"f":0.245},{"w":9217,"f":0.228},{"w":9224,"f":0.221},{"w":9230,"f":0.23},{"w":9237,"f":0.255},{"w":9245,"f":0.28},{"w":9253,"f":0.298},{"w":9261,"f":0.305},{"w":9269,"f":0.302},{"w":9277,"f":0.306},{"w":9285,"f":0.3},{"w":9293,"f":0.304},{"w":9300,"f":0.298},{"w":9308,"f":0.3},{"w":9314,"f":0.28},{"w":9318,"f":0.25},{"w":9322,"f":0.23},{"w":9326,"f":0.26},{"w":9330,"f":0.24},{"w":9334,"f":0.22},{"w":9338,"f":0.25},{"w":9342,"f":0.29},{"w":9348,"f":0.30},{"w":9354,"f":0.296},{"w":9360,"f":0.3},{"w":9366,"f":0.294},{"w":9372,"f":0.298},{"w":9378,"f":0.292},{"w":9384,"f":0.296},{"w":9390,"f":0.29},{"w":9396,"f":0.293},{"w":9402,"f":0.288},{"w":9408,"f":0.285},{"w":9414,"f":0.28},{"w":9420,"f":0.27},{"w":9426,"f":0.255},{"w":9432,"f":0.23},{"w":9436,"f":0.211},{"w":9438,"f":0.0},{"w":9466,"f":0.0},{"w":9468,"f":0.2},{"w":9478,"f":0.2},
{"w":3990.5,"f":1.70},{"w":3996.5,"f":1.72},{"w":4003.5,"f":1.78},{"w":4008.5,"f":1.74},{"w":4013.5,"f":1.80},{"w":4020.5,"f":1.72},{"w":4027.5,"f":1.76},{"w":4034.5,"f":1.70},{"w":4039.5,"f":1.82},{"w":4044.5,"f":1.76},{"w":4049.5,"f":1.80},{"w":4056.5,"f":1.74},{"w":4061.5,"f":1.80},{"w":4066.5,"f":1.70},{"w":4071.5,"f":1.74},{"w":4076.5,"f":1.62},{"w":4081.5,"f":1.60},
{"w":4114.5,"f":1.58},{"w":4119.5,"f":1.74},{"w":4124.5,"f":1.70},{"w":4129.5,"f":1.76},{"w":4134.5,"f":1.72},{"w":4139.5,"f":1.70},{"w":4144.5,"f":1.68},{"w":4149.5,"f":1.72},{"w":4154.5,"f":1.64},{"w":4159.5,"f":1.70},{"w":4164.5,"f":1.62},{"w":4169.5,"f":1.58},{"w":4174.5,"f":1.66},{"w":4179.5,"f":1.60},{"w":4184.5,"f":1.68},{"w":4189.5,"f":1.58},{"w":4194.5,"f":1.64},{"w":4199.5,"f":1.60},{"w":4204.5,"f":1.58},{"w":4209.5,"f":1.55},{"w":4214.5,"f":1.62},{"w":4219.5,"f":1.58},{"w":4224.5,"f":1.52},{"w":4229.5,"f":1.60},{"w":4234.5,"f":1.55},{"w":4239.5,"f":1.58},{"w":4244.5,"f":1.50},{"w":4249.5,"f":1.56},{"w":4254.5,"f":1.52},{"w":4259.5,"f":1.46},{"w":4264.5,"f":1.50},{"w":4269.5,"f":1.42},{"w":4274.5,"f":1.46},{"w":4279.5,"f":1.40},{"w":4284.5,"f":1.44},{"w":4289.5,"f":1.38},{"w":4294.5,"f":1.36},{"w":4299.5,"f":1.34},{"w":4304.5,"f":1.38},{"w":4309.5,"f":1.30},{"w":4315.5,"f":1.32},{"w":4318.5,"f":1.28},
{"w":4355.5,"f":1.40},{"w":4358.5,"f":1.50},{"w":4363.5,"f":1.46},{"w":4368.5,"f":1.50},{"w":4373.5,"f":1.44},{"w":4378.5,"f":1.40},{"w":4383.5,"f":1.46},{"w":4388.5,"f":1.40},{"w":4391.5,"f":1.45},{"w":4394.5,"f":1.36},{"w":4399.5,"f":1.40},{"w":4404.5,"f":1.44},{"w":4409.5,"f":1.34},{"w":4414.5,"f":1.40},{"w":4419.5,"f":1.36},{"w":4427.5,"f":1.38},{"w":4432.5,"f":1.40},{"w":4437.5,"f":1.34},{"w":4442.5,"f":1.38},{"w":4447.5,"f":1.32},{"w":4455.5,"f":1.36},{"w":4460.5,"f":1.38},{"w":4465.5,"f":1.30},{"w":4470.5,"f":1.34},{"w":4476.5,"f":1.25},{"w":4487.5,"f":1.32},{"w":4492.5,"f":1.30},{"w":4497.5,"f":1.28},{"w":4502.5,"f":1.26},{"w":4507.5,"f":1.30},{"w":4512.5,"f":1.24},{"w":4517.5,"f":1.28},{"w":4522.5,"f":1.26},{"w":4527.5,"f":1.22},{"w":4532.5,"f":1.24},{"w":4537.5,"f":1.26},{"w":4542.5,"f":1.18},{"w":4547.5,"f":1.16},{"w":4553.5,"f":1.26},{"w":4558.5,"f":1.30},{"w":4563.5,"f":1.24},{"w":4568.5,"f":1.28},{"w":4573.5,"f":1.26},{"w":4576.5,"f":1.18},{"w":4584.5,"f":1.24},{"w":4589.5,"f":1.30},{"w":4594.5,"f":1.32},{"w":4599.5,"f":1.34},{"w":4604.5,"f":1.30},{"w":4609.5,"f":1.32},{"w":4615.5,"f":1.26},{"w":4620.5,"f":1.32},{"w":4626.5,"f":1.28},{"w":4632.5,"f":1.34},{"w":4637.5,"f":1.30},{"w":4642.5,"f":1.36},{"w":4647.5,"f":1.33},{"w":4652.5,"f":1.36},{"w":4657.5,"f":1.34},{"w":4663.5,"f":1.30},{"w":4669.5,"f":1.40},{"w":4675.5,"f":1.42},{"w":4681.5,"f":1.44},{"w":4687.5,"f":1.45},{"w":4693.5,"f":1.44},{"w":4699.5,"f":1.45},{"w":4705.5,"f":1.44},{"w":4711.5,"f":1.43},{"w":4717.5,"f":1.42},{"w":4723.5,"f":1.41},{"w":4729.5,"f":1.39},{"w":4735.5,"f":1.37},{"w":4741.5,"f":1.38},{"w":4747.5,"f":1.35},{"w":4753.5,"f":1.34},{"w":4759.5,"f":1.32},{"w":4765.5,"f":1.30},{"w":4771.5,"f":1.29},{"w":4777.5,"f":1.28},{"w":4783.5,"f":1.27},{"w":4789.5,"f":1.24},{"w":4795.5,"f":1.23},{"w":4801.5,"f":1.22},{"w":4807.5,"f":1.20},{"w":4813.5,"f":1.19},{"w":4819.5,"f":1.17}
]},
"layer": [
{"data": {"name": "cont"},
 "mark": {"type": "line", "color": "#444", "strokeWidth": 1, "clip": true},
 "encoding": {
  "x": {"field": "w", "type": "quantitative", "scale": {"domain": [3503, 9478], "nice": false, "zero": false},
        "axis": {"orient": "bottom", "values": [4000,5000,6000,7000,8000,9000], "format": "d", "tickSize": -7.5, "labelPadding": 41.8, "labelBaseline": "alphabetic", "title": "Lambda [Ångström]", "titleY": 63.6, "titleBaseline": "alphabetic"}},
  "y": {"field": "c", "type": "quantitative", "scale": {"domain": [0, 2.2], "nice": false, "zero": false},
        "axis": {"orient": "left", "values": [0,0.5,1,1.5,2], "format": ".1f", "tickSize": -21.5, "labelPadding": 32.5, "title": "Relative intensity", "titleX": -65.4, "titleY": 185.7, "titleAngle": -90, "titleBaseline": "alphabetic", "titleAlign": "center"}}
 }},
{"data": {"name": "spec"},
 "mark": {"type": "line", "color": "#000", "strokeWidth": 1, "clip": true},
 "encoding": {
  "x": {"field": "w", "type": "quantitative", "scale": {"domain": [3503, 9478], "nice": false, "zero": false},
        "axis": {"orient": "bottom", "values": [3600,3700,3800,3900,4000,4100,4200,4300,4400,4500,4600,4700,4800,4900,5000,5100,5200,5300,5400,5500,5600,5700,5800,5900,6000,6100,6200,6300,6400,6500,6600,6700,6800,6900,7000,7100,7200,7300,7400,7500,7600,7700,7800,7900,8000,8100,8200,8300,8400,8500,8600,8700,8800,8900,9000,9100,9200,9300,9400], "tickSize": -3.7, "labels": false, "title": null}},
  "y": {"field": "f", "type": "quantitative", "scale": {"domain": [0, 2.2], "nice": false, "zero": false},
        "axis": {"orient": "left", "values": [0.1,0.2,0.3,0.4,0.5,0.6,0.7,0.8,0.9,1.0,1.1,1.2,1.3,1.4,1.5,1.6,1.7,1.8,1.9,2.0,2.1], "tickSize": -10.7, "labels": false, "title": null}}
 }},
{"data": {"name": "cont"},
 "mark": {"type": "line", "opacity": 0, "clip": true},
 "encoding": {
  "x": {"field": "w", "type": "quantitative", "scale": {"domain": [3503, 9478], "nice": false, "zero": false},
        "axis": {"orient": "top", "values": [4000,5000,6000,7000,8000,9000], "tickSize": -7.5, "labels": false, "title": null}},
  "y": {"field": "c", "type": "quantitative", "scale": {"domain": [0, 2.2], "nice": false, "zero": false},
        "axis": {"orient": "right", "values": [0,0.5,1,1.5,2], "tickSize": -21.5, "labels": false, "title": null}}
 }},
{"data": {"name": "cont"},
 "mark": {"type": "line", "opacity": 0, "clip": true},
 "encoding": {
  "x": {"field": "w", "type": "quantitative", "scale": {"domain": [3503, 9478], "nice": false, "zero": false},
        "axis": {"orient": "top", "values": [3600,3700,3800,3900,4000,4100,4200,4300,4400,4500,4600,4700,4800,4900,5000,5100,5200,5300,5400,5500,5600,5700,5800,5900,6000,6100,6200,6300,6400,6500,6600,6700,6800,6900,7000,7100,7200,7300,7400,7500,7600,7700,7800,7900,8000,8100,8200,8300,8400,8500,8600,8700,8800,8900,9000,9100,9200,9300,9400], "tickSize": -3.7, "labels": false, "title": null}},
  "y": {"field": "c", "type": "quantitative", "scale": {"domain": [0, 2.2], "nice": false, "zero": false},
        "axis": {"orient": "right", "values": [0.1,0.2,0.3,0.4,0.5,0.6,0.7,0.8,0.9,1.0,1.1,1.2,1.3,1.4,1.5,1.6,1.7,1.8,1.9,2.0,2.1], "tickSize": -10.7, "labels": false, "title": null}}
 }}
],
"resolve": {"axis": {"x": "independent", "y": "independent"}},
"config": {
 "view": {"stroke": "#333", "strokeWidth": 1},
 "axis": {"grid": false, "domain": false, "tickColor": "#333", "tickWidth": 1, "labelFont": "DejaVu Sans", "labelFontSize": 21, "labelFontWeight": 200, "labelColor": "#555", "titleFont": "DejaVu Sans", "titleFontSize": 21, "titleFontWeight": 200, "titleColor": "#555", "labelFlush": false, "labelOverlap": false}
}
}
